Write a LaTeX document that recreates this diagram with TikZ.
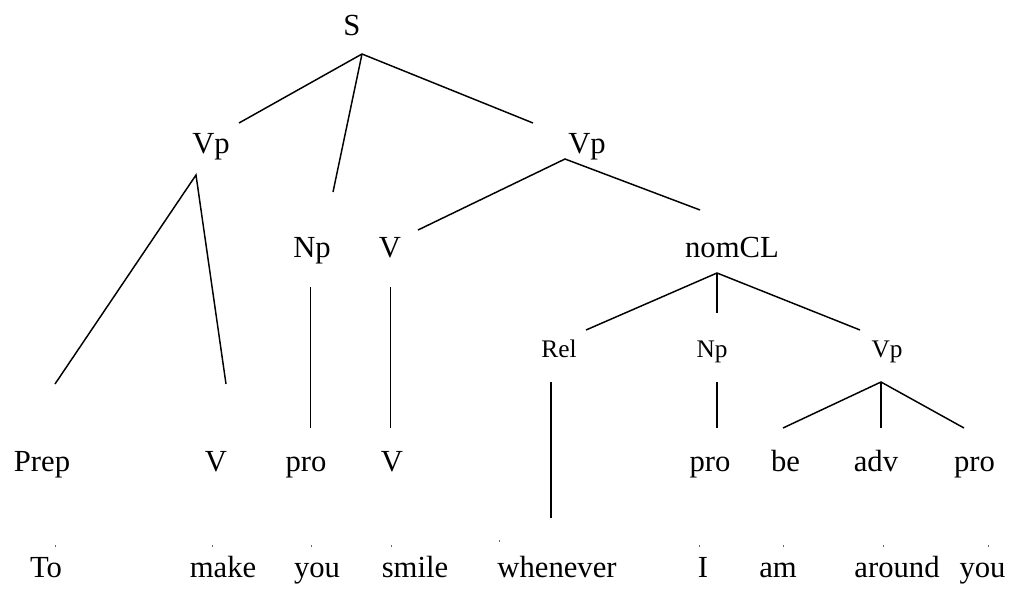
\documentclass[tikz,border=0pt]{standalone}
\usepackage{fontspec}
\setmainfont{Liberation Serif}
\begin{document}
\begin{tikzpicture}[x=0.75pt,y=-0.75pt,
  big/.style={font=\fontsize{23}{26}\selectfont,inner sep=0pt,anchor=base},
  small/.style={font=\fontsize{19}{22}\selectfont,inner sep=0pt,anchor=base},
  edge/.style={line width=1.1pt},
  tick/.style={line width=0.6pt,black!60}]
\useasboundingbox (0,0) rectangle (1034,589);
% labels
\node[big] (S) at (352,35) {S};
\node[big] (VpL) at (211,153) {Vp};
\node[big] (VpR) at (587,153) {Vp};
\node[big] (Np) at (312,257) {Np};
\node[big] (V) at (390,257) {V};
\node[big] (nomCL) at (732,257) {nomCL};
\node[small] (Rel) at (559,357) {Rel};
\node[small] (Nps) at (712,357) {Np};
\node[small] (Vps) at (887,357) {Vp};
\node[big] (Prep) at (42,471) {Prep};
\node[big] (V1) at (216,471) {V};
\node[big] (pro1) at (306,471) {pro};
\node[big] (V2) at (392,471) {V};
\node[big] (pro2) at (710,471) {pro};
\node[big] (be) at (785.5,471) {be};
\node[big] (adv) at (876,471) {adv};
\node[big] (pro3) at (974.5,471) {pro};
\node[big] (To) at (46,577) {To};
\node[big] (make) at (223,577) {make};
\node[big] (you1) at (317,577) {you};
\node[big] (smile) at (415,577) {smile};
\node[big] (whenever) at (557,577) {whenever};
\node[big] (I) at (703,577) {I};
\node[big] (am) at (778,577) {am};
\node[big] (around) at (897,577) {around};
\node[big] (you2) at (982.5,577) {you};
% connector ends
\coordinate (Sb) at (362,54);
\coordinate (VpLt) at (239,123);
\coordinate (Npt) at (333,192);
\coordinate (VpRt) at (533,123);
\coordinate (VpLb) at (196,175);
\coordinate (Prept) at (55,384);
\coordinate (V1t) at (226,384);
\coordinate (VpRb) at (565,159);
\coordinate (Vt) at (418,230);
\coordinate (nomCLt) at (700,210);
\coordinate (Npb) at (310.5,287);
\coordinate (pro1t) at (310.5,428);
\coordinate (Vb) at (390.5,287);
\coordinate (V2t) at (390.5,428);
\coordinate (nomCLb) at (717,273);
\coordinate (Relt) at (586,330);
\coordinate (Npst) at (717,313);
\coordinate (Vpst) at (860,330);
\coordinate (Relb) at (551,382);
\coordinate (whent) at (551,518);
\coordinate (Npsb) at (717,382);
\coordinate (pro2t) at (717,428);
\coordinate (Vpsb) at (881,382);
\coordinate (bet) at (783,428);
\coordinate (advt) at (881,428);
\coordinate (pro3t) at (964,428);
% edges
\draw[edge] (VpLt) -- (Sb) -- (VpRt);
\draw[edge] (Sb) -- (Npt);
\draw[edge] (Prept) -- (VpLb) -- (V1t);
\draw[edge] (Vt) -- (VpRb) -- (nomCLt);
\draw[edge] (Npb) -- (pro1t);
\draw[edge] (Vb) -- (V2t);
\draw[edge] (Relt) -- (nomCLb) -- (Vpst);
\draw[edge] (nomCLb) -- (Npst);
\draw[edge] (Relb) -- (whent);
\draw[edge] (Npsb) -- (pro2t);
\draw[edge] (bet) -- (Vpsb) -- (pro3t);
\draw[edge] (Vpsb) -- (advt);
% tiny ticks
\foreach \n/\x/\y in {t1/55/546,t2/212/546,t3/311/546,t4/391/546,t5/499/541,t6/699/546,t7/783/546,t8/883/546,t9/988/546}{
  \coordinate (\n a) at (\x,\y-1);
  \coordinate (\n b) at (\x,\y+1);
  \draw[tick] (\n a) -- (\n b);
}
\end{tikzpicture}
\end{document}
